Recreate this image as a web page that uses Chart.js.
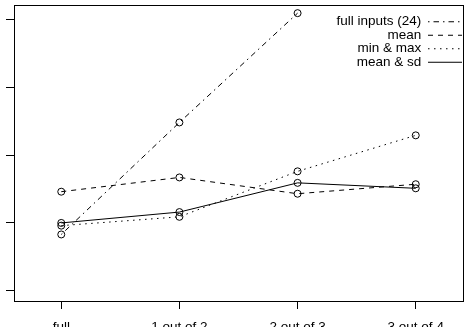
<!DOCTYPE html>
<html>
<head>
<meta charset="utf-8">
<script src="https://cdn.jsdelivr.net/npm/chart.js@4"></script>
<style>
  html, body { margin: 0; padding: 0; background: #fff; }
  #wrap { width: 468px; height: 327px; }
</style>
</head>
<body>
<div id="wrap"><canvas id="chart" width="468" height="327"></canvas></div>
<script>
// Values
const categories = ['full', '1 out of 2', '2 out of 3', '3 out of 4'];
const seriesNames = ['full inputs (24)', 'mean', 'min & max', 'mean & sd'];
const fullInputs = [0.83, 2.48, 4.09, null];
const meanVals = [1.46, 1.67, 1.43, 1.57];
const minMaxVals = [0.96, 1.09, 1.76, 2.29];
const meanSdVals = [1.00, 1.16, 1.59, 1.51];
const yTicks = [0, 1, 2, 3, 4];

Chart.defaults.font.family = "'Liberation Sans', Arial, sans-serif";
Chart.defaults.font.size = 13.5;
Chart.defaults.color = '#000';

function toPoints(vals) {
    return vals.map((v, i) => ({ x: i + 1, y: v }));
}

function lineSet(label, vals, dash) {
    return {
        label: label,
        data: toPoints(vals),
        borderColor: '#000',
        borderWidth: 1,
        borderDash: dash,
        pointRadius: 3.5,
        pointBorderWidth: 1,
        pointBorderColor: '#000',
        pointBackgroundColor: 'rgba(0,0,0,0)',
        tension: 0,
        fill: false
    };
}

// put the legend in the top right corner of the plot box
const legendPlacer = {
    id: 'legendPlacer',
    afterLayout(chart) {
        const lg = chart.legend;
        const ca = chart.chartArea;
        const w = lg.width;
        lg.left = ca.right - w - 1;
        lg.right = lg.left + w;
        lg.top = ca.top + 10;
        lg.bottom = ca.bottom;
    }
};

const ctx = document.getElementById('chart').getContext('2d');
new Chart(ctx, {
    type: 'line',
    data: {
        datasets: [
            lineSet(seriesNames[0], fullInputs, [1.5, 4, 5.5, 4]),
            lineSet(seriesNames[1], meanVals, [5, 5]),
            lineSet(seriesNames[2], minMaxVals, [1.5, 4.5]),
            lineSet(seriesNames[3], meanSdVals, [])
        ]
    },
    options: {
        responsive: false,
        animation: false,
        layout: { padding: 0 },
        scales: {
            x: {
                type: 'linear',
                position: 'bottom',
                min: 0.6,
                max: 4.4,
                afterBuildTicks: s => { s.ticks = categories.map((c, i) => ({ value: i + 1 })); },
                afterFit: s => { s.height = 26; },
                ticks: {
                    padding: 10,
                    maxRotation: 0,
                    autoSkip: false,
                    callback: v => categories[v - 1]
                },
                grid: { drawOnChartArea: false, drawTicks: true, tickLength: 8, color: '#000', lineWidth: 1 },
                border: { display: true, color: '#000', width: 1 }
            },
            y: {
                type: 'linear',
                position: 'left',
                min: -0.15,
                max: 4.21,
                afterBuildTicks: s => { s.ticks = yTicks.map(v => ({ value: v })); },
                afterFit: s => { s.width = 14; },
                ticks: { display: false },
                grid: { drawOnChartArea: false, drawTicks: true, tickLength: 8, color: '#000', lineWidth: 1 },
                border: { display: true, color: '#000', width: 1 }
            },
            x2: {
                type: 'linear',
                position: 'top',
                afterFit: s => { s.height = 3; },
                ticks: { display: false },
                grid: { display: false },
                border: { display: true, color: '#000', width: 1 }
            },
            y2: {
                type: 'linear',
                position: 'right',
                afterFit: s => { s.width = 5; },
                ticks: { display: false },
                grid: { display: false },
                border: { display: true, color: '#000', width: 1 }
            }
        },
        plugins: {
            tooltip: { enabled: false },
            legend: {
                display: true,
                position: 'chartArea',
                align: 'start',
                rtl: true,
                labels: {
                    usePointStyle: true,
                    pointStyle: 'line',
                    pointStyleWidth: 34,
                    padding: 0,
                    color: '#000',
                    generateLabels: chart => Chart.defaults.plugins.legend.labels.generateLabels(chart)
                        .map(l => Object.assign(l, { lineDash: chart.data.datasets[l.datasetIndex].borderDash, lineWidth: 1 }))
                }
            }
        }
    },
    plugins: [legendPlacer]
});
</script>
</body>
</html>
